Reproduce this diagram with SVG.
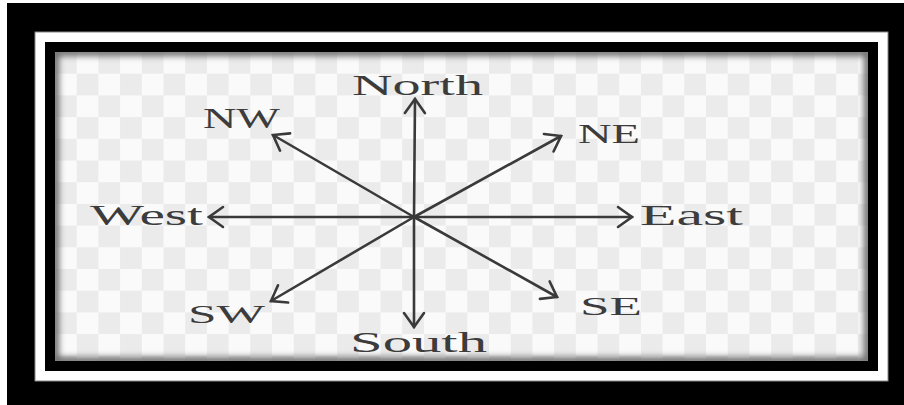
<svg xmlns="http://www.w3.org/2000/svg" width="904" height="405" viewBox="0 0 904 405">
<style>
.lbl{font-family:"Liberation Serif","Times New Roman",serif;fill:#3c3c3c;}
.arr{stroke:#3a3a3a;stroke-width:2.6;fill:none;stroke-linecap:round;}
</style>
<defs>
<pattern id="chk" patternUnits="userSpaceOnUse" x="55" y="52" width="43.4" height="43.4">
<rect width="43.4" height="43.4" fill="#fafafa"/>
<rect width="21.7" height="21.7" fill="#ebebeb"/>
<rect x="21.7" y="21.7" width="21.7" height="21.7" fill="#ebebeb"/>
</pattern>
<clipPath id="cc"><rect x="55" y="52" width="813" height="309"/></clipPath>
<filter id="bl" x="-5%" y="-5%" width="110%" height="110%"><feGaussianBlur stdDeviation="3"/></filter>
<marker id="ah" markerUnits="userSpaceOnUse" markerWidth="40" markerHeight="40" refX="0" refY="0" viewBox="-20 -20 40 40" orient="auto">
<path d="M-14,-10 L0,0 L-14,10" stroke="#3a3a3a" stroke-width="2.6" fill="none" stroke-linecap="round" stroke-linejoin="miter"/>
</marker>
</defs>
<g id="frame">
<rect x="0" y="0" width="904" height="405" fill="#ffffff"/>
<rect x="7" y="3" width="897" height="402" fill="#000000"/>
<rect x="35" y="32" width="853" height="349" fill="#ffffff" stroke="#888" stroke-width="1"/>
<rect x="45" y="42" width="833" height="329" fill="#000000"/>
<rect x="55" y="52" width="813" height="309" fill="url(#chk)"/>
<g clip-path="url(#cc)"><rect x="55" y="52" width="813" height="309" fill="none" stroke="#6a6a6a" stroke-width="8" filter="url(#bl)"/></g>
</g>
<g id="connectors">
<line class="arr" x1="414" y1="217" x2="415" y2="99" marker-end="url(#ah)"/>
<line class="arr" x1="414" y1="217" x2="414" y2="327" marker-end="url(#ah)"/>
<line class="arr" x1="414" y1="217" x2="209" y2="217" marker-end="url(#ah)"/>
<line class="arr" x1="414" y1="217" x2="632" y2="217" marker-end="url(#ah)"/>
<line class="arr" x1="414" y1="217" x2="273" y2="135" marker-end="url(#ah)"/>
<line class="arr" x1="414" y1="217" x2="561" y2="136" marker-end="url(#ah)"/>
<line class="arr" x1="414" y1="217" x2="271" y2="301" marker-end="url(#ah)"/>
<line class="arr" x1="414" y1="217" x2="557" y2="297" marker-end="url(#ah)"/>
</g>
<g id="north"><text class="lbl" x="352" y="95" font-size="30" textLength="131" lengthAdjust="spacingAndGlyphs">North</text></g>
<g id="south"><text class="lbl" x="350" y="352" font-size="30" textLength="137" lengthAdjust="spacingAndGlyphs">South</text></g>
<g id="west"><text class="lbl" x="90" y="225" font-size="30" textLength="113" lengthAdjust="spacingAndGlyphs">West</text></g>
<g id="east"><text class="lbl" x="640" y="225" font-size="30" textLength="103" lengthAdjust="spacingAndGlyphs">East</text></g>
<g id="nw"><text class="lbl" x="203" y="128" font-size="29" textLength="77" lengthAdjust="spacingAndGlyphs">NW</text></g>
<g id="ne"><text class="lbl" x="578" y="143" font-size="27" textLength="62" lengthAdjust="spacingAndGlyphs">NE</text></g>
<g id="sw"><text class="lbl" x="188" y="323" font-size="25" textLength="77" lengthAdjust="spacingAndGlyphs">SW</text></g>
<g id="se"><text class="lbl" x="580" y="315" font-size="26" textLength="62" lengthAdjust="spacingAndGlyphs">SE</text></g>
</svg>
